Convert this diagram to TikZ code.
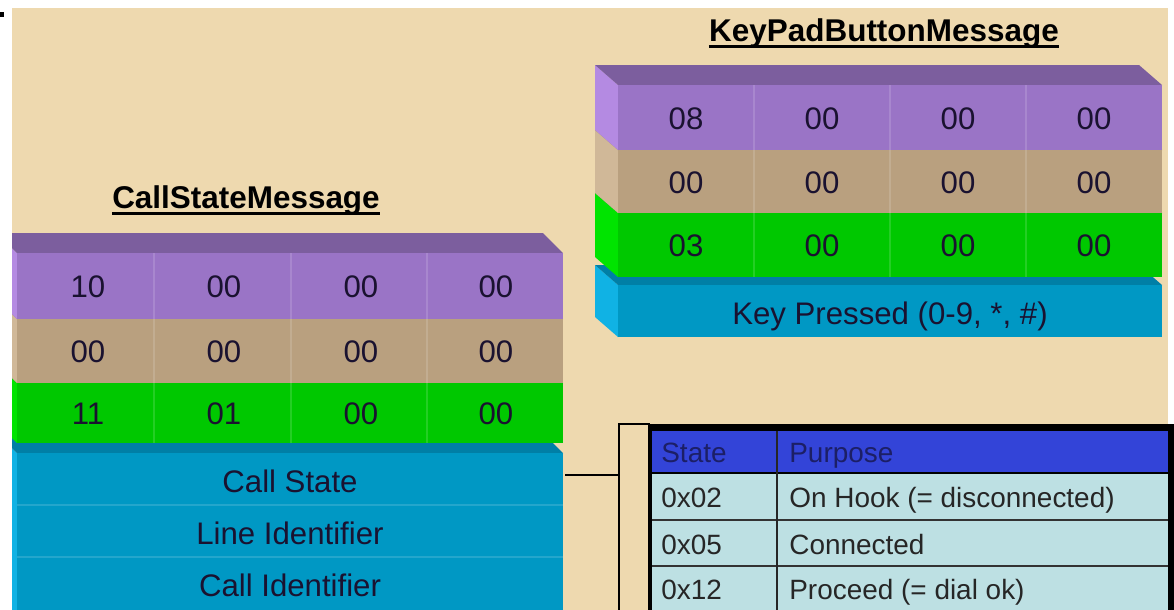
\documentclass[tikz,border=0pt]{standalone}
\usepackage{fontspec}
\setmainfont{Liberation Sans}
\definecolor{bg}{HTML}{EED9AF}
\definecolor{pfront}{HTML}{9A74C6}
\definecolor{ptop}{HTML}{7C5E9E}
\definecolor{pside}{HTML}{B48AE2}
\definecolor{tfront}{HTML}{B9A07F}
\definecolor{ttop}{HTML}{9C8566}
\definecolor{tside}{HTML}{D0B898}
\definecolor{gfront}{HTML}{00C800}
\definecolor{gtop}{HTML}{00A000}
\definecolor{gside}{HTML}{00E400}
\definecolor{bfront}{HTML}{0098C4}
\definecolor{btop}{HTML}{007FA6}
\definecolor{bside}{HTML}{10B2E4}
\definecolor{thead}{HTML}{3344D8}
\definecolor{trow}{HTML}{BDE0E3}
\definecolor{txt}{HTML}{1A1230}
\definecolor{htxt}{HTML}{1C1F66}
\definecolor{rtxt}{HTML}{262626}
\newcommand{\slab}[9]{%
  \fill[#9] (#1,#3) -- ({#1-#5},{#3-#6}) -- ({#1-#5},{#4-#6}) -- (#1,#4) -- cycle;
  \fill[#8] (#1,#3) -- ({#1-#5},{#3-#6}) -- ({#2-#5},{#3-#6}) -- (#2,#3) -- cycle;
  \fill[#7] (#1,#3) rectangle (#2,#4);}
\tikzset{
  cell/.style={inner sep=0pt, anchor=base, text=txt, font=\fontsize{17.75pt}{20pt}\selectfont},
  tcell/.style={inner sep=0pt, anchor=base west, font=\fontsize{15.9pt}{18pt}\selectfont},
  titletext/.style={inner sep=0pt, anchor=base, text=black, font=\fontsize{17.9pt}{20pt}\selectfont\bfseries},
  sepline/.style={white, opacity=0.14, line width=0.6pt},
  bracketbox/.style={draw=black, line width=0.9pt, fill=bg, inner sep=0pt, minimum width=0.6cm, minimum height=3.9cm},
  conn/.style={draw=black, line width=0.9pt}
}
\begin{document}
\begin{tikzpicture}[x=0.02cm, y=-0.02cm]
\clip (0,0) rectangle (1174,609);
\fill[white] (0,0) rectangle (1174,609);
\fill[black] (0,12) rectangle (4,17);
\begin{scope}
\clip (12,8) rectangle (1168,615);
\fill[bg] (12,8) rectangle (1168,615);
% ---------- left stack ----------
\slab{17}{563}{453}{620}{20}{20}{bfront}{btop}{bside}
\slab{17}{563}{383}{443}{20}{20}{gfront}{gtop}{gside}
\slab{17}{563}{319}{383}{20}{20}{tfront}{ttop}{tside}
\slab{17}{563}{253}{319}{20}{20}{pfront}{ptop}{pside}
\foreach \cx in {154,291,427}{\draw[sepline] (\cx,253) -- (\cx,443);}
\foreach \cy in {505,557}{\draw[sepline] (17,\cy) -- (563,\cy);}
% ---------- right stack ----------
\slab{618}{1162}{285}{337}{23}{20}{bfront}{btop}{bside}
\slab{618}{1162}{213}{277}{23}{20}{gfront}{gtop}{gside}
\slab{618}{1162}{150}{213}{23}{20}{tfront}{ttop}{tside}
\slab{618}{1162}{85}{150}{23}{20}{pfront}{ptop}{pside}
\foreach \cx in {754,890,1026}{\draw[sepline] (\cx,85) -- (\cx,277);}
\end{scope}
% ---------- titles ----------
\node[titletext] (t1) at (246,208) {CallStateMessage};
\draw[line width=1.3pt] ([yshift=-3.2pt]t1.base west) -- ([yshift=-3.2pt]t1.base east);
\node[titletext] (t2) at (884,41) {KeyPadButtonMessage};
\draw[line width=1.3pt] ([yshift=-3.2pt]t2.base west) -- ([yshift=-3.2pt]t2.base east);
% ---------- left stack texts ----------
\node[cell] (l11) at (88,297) {10};
\node[cell] (l12) at (224,297) {00};
\node[cell] (l13) at (361,297) {00};
\node[cell] (l14) at (496,297) {00};
\node[cell] (l21) at (88,362) {00};
\node[cell] (l22) at (224,362) {00};
\node[cell] (l23) at (361,362) {00};
\node[cell] (l24) at (496,362) {00};
\node[cell] (l31) at (88,424) {11};
\node[cell] (l32) at (224,424) {01};
\node[cell] (l33) at (361,424) {00};
\node[cell] (l34) at (496,424) {00};
\node[cell] (cs) at (290,492) {Call State};
\node[cell] (li) at (290,544) {Line Identifier};
\node[cell] (ci) at (290,596) {Call Identifier};
% ---------- right stack texts ----------
\node[cell] (r11) at (686,129) {08};
\node[cell] (r12) at (822,129) {00};
\node[cell] (r13) at (958,129) {00};
\node[cell] (r14) at (1094,129) {00};
\node[cell] (r21) at (686,193) {00};
\node[cell] (r22) at (822,193) {00};
\node[cell] (r23) at (958,193) {00};
\node[cell] (r24) at (1094,193) {00};
\node[cell] (r31) at (686,256) {03};
\node[cell] (r32) at (822,256) {00};
\node[cell] (r33) at (958,256) {00};
\node[cell] (r34) at (1094,256) {00};
\node[cell] (kp) at (890,324) {Key Pressed (0-9, *, \#)};
% ---------- table ----------
\fill[black] (647,424) rectangle (1180,620);
\fill[thead] (652,431) rectangle (1168,473);
\fill[trow] (652,474) rectangle (1168,620);
\draw[black, line width=1.1pt] (652,473) -- (1168,473);
\draw[black!80, line width=0.8pt] (652,520) -- (1168,520);
\draw[black!80, line width=0.8pt] (652,566) -- (1168,566);
\draw[black!85, line width=0.9pt] (777,431) -- (777,620);
\node[tcell, text=htxt] (hs) at (661,462) {State};
\node[tcell, text=htxt] (hp) at (789,462) {Purpose};
\node[tcell, text=rtxt] (s1) at (661,507) {0x02};
\node[tcell, text=rtxt] (p1) at (789,507) {On Hook (= disconnected)};
\node[tcell, text=rtxt] (s2) at (661,554) {0x05};
\node[tcell, text=rtxt] (p2) at (789,554) {Connected};
\node[tcell, text=rtxt] (s3) at (661,599) {0x12};
\node[tcell, text=rtxt] (p3) at (789,599) {Proceed (= dial ok)};
% ---------- bracket and connector ----------
\node[bracketbox, anchor=north west] (br) at (618,423) {};
\coordinate (csR) at (565,475);
\draw[conn] (csR) -- (br.west |- csR);
\end{tikzpicture}
\end{document}
